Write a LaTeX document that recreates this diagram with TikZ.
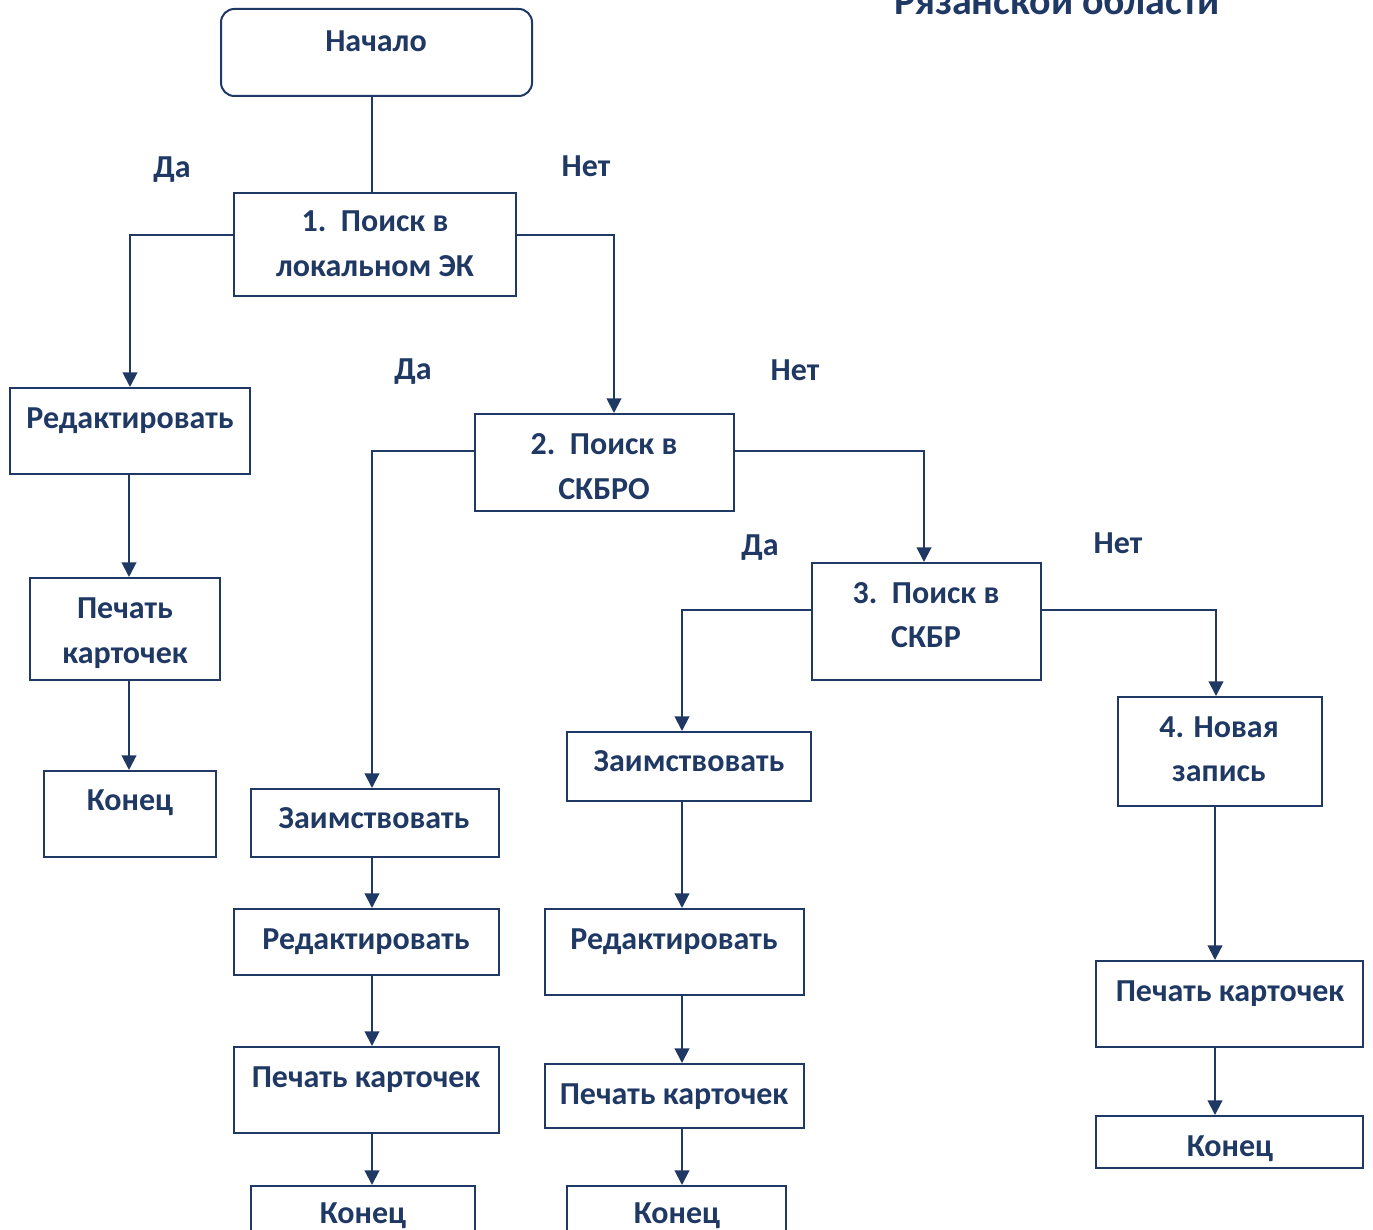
\documentclass[tikz,border=0pt]{standalone}
\usepackage{fontspec}
\setmainfont{Carlito}
\usetikzlibrary{arrows.meta,fit}
\definecolor{navy}{RGB}{31,56,100}
\begin{document}
\begin{tikzpicture}[x=0.75pt,y=-0.75pt,
  box/.style={draw=navy,line width=1.5pt,inner sep=0pt,fit={#1}},
  rbox/.style={draw=navy,line width=1.5pt,inner sep=0pt,rounded corners=10pt,fit={#1}},
  txt/.style={anchor=base,text=navy,font=\fontsize{24}{29}\selectfont\bfseries,inner sep=0pt},
  ttl/.style={anchor=base,text=navy,font=\fontsize{30}{36}\selectfont\bfseries,inner sep=0pt},
  conn/.style={draw=navy,line width=1.5pt},
  arr/.style={conn,-{Triangle[width=11pt,length=11pt]}}]
\useasboundingbox (0,0) rectangle (1373,1230);
\node[ttl] (title) at (1057,15) {Рязанской области};
% boxes
\node[rbox={(221,9) (532,96)}] (start) {};
\node[box={(234,193) (516,296)}] (b1) {};
\node[box={(10,388) (250,474)}] (red1) {};
\node[box={(30,578) (220,680)}] (pr1) {};
\node[box={(44,771) (216,857)}] (end1) {};
\node[box={(475,414) (734,511)}] (b2) {};
\node[box={(251,789) (499,857)}] (z1) {};
\node[box={(234,909) (499,975)}] (red2) {};
\node[box={(234,1047) (499,1133)}] (pr2) {};
\node[box={(251,1186) (475,1245)}] (end2) {};
\node[box={(812,563) (1041,680)}] (b3) {};
\node[box={(567,732) (811,801)}] (z2) {};
\node[box={(545,909) (804,995)}] (red3) {};
\node[box={(545,1064) (804,1128)}] (pr3) {};
\node[box={(567,1186) (786,1245)}] (end3) {};
\node[box={(1118,697) (1322,806)}] (b4) {};
\node[box={(1096,961) (1363,1047)}] (pr4) {};
\node[box={(1096,1116) (1363,1168)}] (end4) {};
% texts
\node[txt] (tstart) at (376,52) {Начало};
\node[txt] (tb1a) at (375,232) {1.\ \ Поиск в};
\node[txt] (tb1b) at (375,277) {локальном ЭК};
\node[txt] (tred1) at (130,428) {Редактировать};
\node[txt] (tpr1a) at (125,618) {Печать};
\node[txt] (tpr1b) at (125,663) {карточек};
\node[txt] (tend1) at (130,810) {Конец};
\node[txt] (tb2a) at (604,454) {2.\ \ Поиск в};
\node[txt] (tb2b) at (604,499) {СКБРО};
\node[txt] (tz1) at (374,828) {Заимствовать};
\node[txt] (tred2) at (366,949) {Редактировать};
\node[txt] (tpr2) at (366,1087) {Печать карточек};
\node[txt] (tend2) at (363,1223) {Конец};
\node[txt] (tb3a) at (926,603) {3.\ \ Поиск в};
\node[txt] (tb3b) at (926,647) {СКБР};
\node[txt] (tz2) at (689,771) {Заимствовать};
\node[txt] (tred3) at (674,949) {Редактировать};
\node[txt] (tpr3) at (674,1104) {Печать карточек};
\node[txt] (tend3) at (677,1223) {Конец};
\node[txt] (tb4a) at (1219,737) {4. Новая};
\node[txt] (tb4b) at (1219,781) {запись};
\node[txt] (tpr4) at (1230,1001) {Печать карточек};
\node[txt] (tend4) at (1230,1156) {Конец};
% yes/no labels
\node[txt] (da1) at (172,178) {Да};
\node[txt] (net1) at (586,177) {Нет};
\node[txt] (da2) at (413,379) {Да};
\node[txt] (net2) at (795,380) {Нет};
\node[txt] (da3) at (760,555) {Да};
\node[txt] (net3) at (1118,553) {Нет};
% connector coordinates
\coordinate (x0) at (372,0);
\coordinate (c1) at (130,235);
\coordinate (c2) at (614,235);
\coordinate (c3) at (372,451);
\coordinate (c4) at (924,451);
\coordinate (c5) at (682,610);
\coordinate (c6) at (1216,610);
\coordinate (xA) at (129,0);
\coordinate (xC) at (682,0);
\coordinate (xD) at (1215,0);
% connectors
\draw[conn] (start.south -| x0) -- (b1.north -| x0);
\draw[arr] (b1.west |- c1) -- (c1) -- (c1 |- red1.north);
\draw[arr] (b1.east |- c2) -- (c2) -- (c2 |- b2.north);
\draw[arr] (red1.south -| xA) -- (pr1.north -| xA);
\draw[arr] (pr1.south -| xA) -- (end1.north -| xA);
\draw[arr] (b2.west |- c3) -- (c3) -- (c3 |- z1.north);
\draw[arr] (b2.east |- c4) -- (c4) -- (c4 |- b3.north);
\draw[arr] (z1.south -| c3) -- (red2.north -| c3);
\draw[arr] (red2.south -| c3) -- (pr2.north -| c3);
\draw[arr] (pr2.south -| c3) -- (end2.north -| c3);
\draw[arr] (b3.west |- c5) -- (c5) -- (c5 |- z2.north);
\draw[arr] (b3.east |- c6) -- (c6) -- (c6 |- b4.north);
\draw[arr] (z2.south -| xC) -- (red3.north -| xC);
\draw[arr] (red3.south -| xC) -- (pr3.north -| xC);
\draw[arr] (pr3.south -| xC) -- (end3.north -| xC);
\draw[arr] (b4.south -| xD) -- (pr4.north -| xD);
\draw[arr] (pr4.south -| xD) -- (end4.north -| xD);
\end{tikzpicture}
\end{document}
